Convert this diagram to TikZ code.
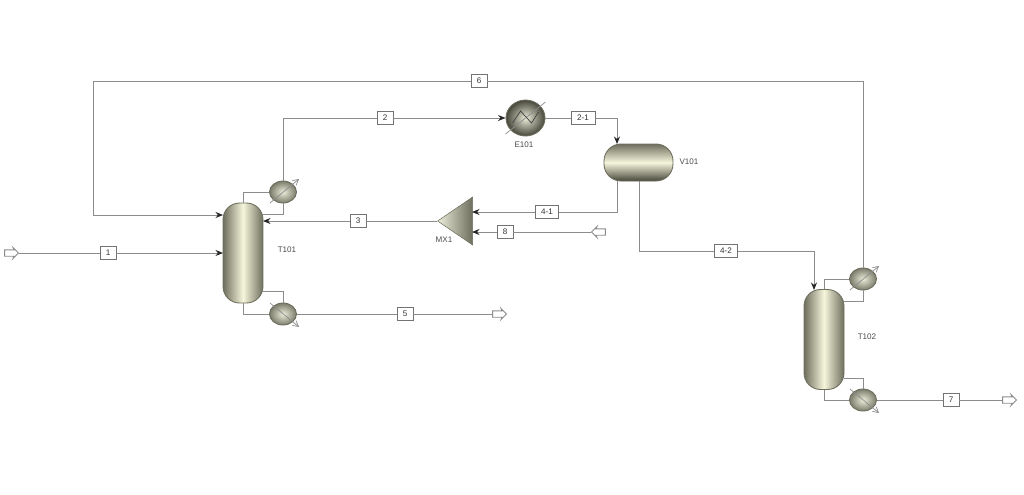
\documentclass[tikz,border=0pt]{standalone}
\usepackage{fontspec}
\setmainfont{Liberation Sans}
\usetikzlibrary{arrows.meta}
\usetikzlibrary{shapes.geometric}
\usetikzlibrary{shapes.arrows}
\definecolor{vesselmid}{HTML}{F6F6DC}
\definecolor{vesselside}{HTML}{6E6E5E}
\definecolor{vesseldark}{HTML}{46463A}
\definecolor{bulbmid}{HTML}{ECECDA}
\definecolor{bulbedge}{HTML}{7C7C6C}
\tikzset{stream/.style={draw=black!45, line width=0.52pt}}
\tikzset{feed it/.style={stream, -{Stealth[length=1.5mm, width=1.2mm, black!85]}}}
\tikzset{tag/.style={draw=black!55, fill=white, line width=0.55pt, inner sep=0pt,
    minimum width=0.32cm, minimum height=0.27cm, text=black!80, font=\fontsize{4.6}{5}\selectfont}}
\tikzset{label/.style={inner sep=0pt, text=black!70, font=\fontsize{4.6}{5}\selectfont}}
\tikzset{column/.style={draw=vesselside, line width=0.5pt, rounded corners=0.33cm, inner sep=0pt,
    minimum width=0.8cm, minimum height=2cm,
    left color=vesselside, right color=vesselside, middle color=vesselmid}}
\tikzset{drum/.style={draw=vesselside, line width=0.5pt, rounded corners=0.34cm, inner sep=0pt,
    minimum width=1.38cm, minimum height=0.74cm,
    top color=vesselside, bottom color=vesseldark, middle color=vesselmid}}
\tikzset{exchanger/.style={ellipse, draw=vesselside, line width=0.5pt, inner sep=0pt,
    minimum width=0.54cm, minimum height=0.44cm, shade, inner color=bulbmid, outer color=bulbedge}}
\tikzset{mixer/.style={isosceles triangle, isosceles triangle stretches, shape border rotate=180,
    draw=vesselside, line width=0.3pt, inner sep=0pt, minimum width=0.96cm, minimum height=0.7cm,
    left color=bulbmid, right color=vesselside}}
\tikzset{port/.style={single arrow, draw=black!45, fill=white, line width=0.5pt, inner sep=0.055cm,
    minimum height=0.28cm, single arrow head extend=0.05cm, single arrow head indent=0.02cm}}
\tikzset{slash/.style={draw=black!45, line width=0.4pt}}

\begin{document}
\begin{tikzpicture}[x=0.02cm, y=-0.02cm]
    \useasboundingbox (0, 0) rectangle (1024, 494);

    % equipment
    \node[column] (T101) at (243, 253) {};
    \node[column] (T102) at (824, 339.5) {};
    \node[drum] (V101) at (638.5, 162.5) {};
    \node[exchanger] (C101) at (283, 192) {};
    \node[exchanger] (R101) at (283, 314) {};
    \node[exchanger] (C102) at (863, 279) {};
    \node[exchanger] (R102) at (863, 400) {};
    \node[exchanger, minimum width=0.78cm, minimum height=0.72cm, inner color=bulbmid, outer color=vesseldark] (E101) at (525.5, 118) {};
    \node[mixer] (MX1) at (460, 221) {};

    \node[label] (LT101) at (287, 250) {T101};
    \node[label] (LT102) at (867, 337) {T102};
    \node[label] (LV101) at (689, 162) {V101};
    \node[label] (LE101) at (524, 145) {E101};
    \node[label] (LMX1) at (444, 240) {MX1};

    % stream tags
    \node[tag] (S1) at (108, 253) {1};
    \node[tag] (S2) at (385, 118) {2};
    \node[tag, minimum width=0.48cm] (S21) at (583, 118) {2-1};
    \node[tag] (S3) at (358, 221) {3};
    \node[tag, minimum width=0.46cm] (S41) at (547, 212) {4-1};
    \node[tag, minimum width=0.46cm] (S42) at (726, 251) {4-2};
    \node[tag] (S5) at (405, 314) {5};
    \node[tag] (S6) at (479, 81) {6};
    \node[tag] (S7) at (951, 400) {7};
    \node[tag] (S8) at (505, 232) {8};

    % open ends
    \node[port] (P1) at (10, 253) {};
    \node[port] (P5) at (498, 314) {};
    \node[port] (P7) at (1008, 400) {};
    \node[port, shape border rotate=180] (P8) at (600, 232) {};

    % tie points on the vessels
    \coordinate (T101top) at (263, 214);
    \coordinate (T101ret) at (263, 221);
    \coordinate (T101rec) at (223, 215);
    \coordinate (T101feed) at (223, 253);
    \coordinate (T101bot) at (263, 291);
    \coordinate (T102top) at (844, 301);
    \coordinate (T102bot) at (844, 378);
    \coordinate (T102feed) at (814, 290);
    \coordinate (V101in) at (617, 144);
    \coordinate (V101liq) at (617, 181);
    \coordinate (V101out) at (639, 181);
    \coordinate (MX1a) at (472, 212);
    \coordinate (MX1b) at (472, 232);

    % column one
    \draw[feed it] (P1.tip) -- (S1) -- (T101feed);
    \draw[stream] (T101.north) |- (C101.west);
    \draw[stream] (C101.south) |- (T101top);
    \draw[stream] (C101.north) |- (S2);
    \draw[feed it] (S2) -- (E101.west);
    \draw[stream] (T101.south) |- (R101.west);
    \draw[stream] (T101bot) -| (R101.north);
    \draw[stream] (R101.east) -- (S5);
    \draw[stream] (S5) -- (P5.tail);

    % flash drum
    \draw[feed it] (E101.east) -- (S21) -| (V101in);
    \draw[stream] (V101liq) |- (S41);
    \draw[feed it] (S41) -- (MX1a);
    \draw[feed it] (P8.tip) -- (S8) -- (MX1b);
    \draw[feed it] (MX1.apex) -- (S3) -- (T101ret);
    \draw[stream] (V101out) |- (S42);
    \draw[feed it] (S42) -| (T102feed);

    % column two
    \draw[stream] (T102.north) |- (C102.west);
    \draw[stream] (C102.south) |- (T102top);
    \draw[stream] (T102bot) -| (R102.north);
    \draw[stream] (T102.south) |- (R102.west);
    \draw[stream] (R102.east) -- (S7);
    \draw[stream] (S7) -- (P7.tail);
    \draw[stream] (C102.north) |- (S6);
    \draw[feed it] (S6) -| (93, 215) -- (T101rec);

    % exchanger marks
    \foreach \name in {C101, C102} {
        \draw[slash, -{Straight Barb[length=1.1mm, width=1.2mm]}] ([shift={(-13, 11)}]\name.center) -- ([shift={(16, -13)}]\name.center);
    }
    \foreach \name in {R101, R102} {
        \draw[slash, -{Straight Barb[length=1.1mm, width=1.2mm]}] ([shift={(-13, -11)}]\name.center) -- ([shift={(16, 13)}]\name.center);
    }
    \draw[slash] ([shift={(-20, 16)}]E101.center) -- ([shift={(20, -16)}]E101.center);
    \draw[slash, black!75] ([shift={(-13, 5)}]E101.center) -- ([shift={(-5, -7)}]E101.center)
        -- ([shift={(6, 5)}]E101.center) -- ([shift={(13, -6)}]E101.center);
\end{tikzpicture}
\end{document}
